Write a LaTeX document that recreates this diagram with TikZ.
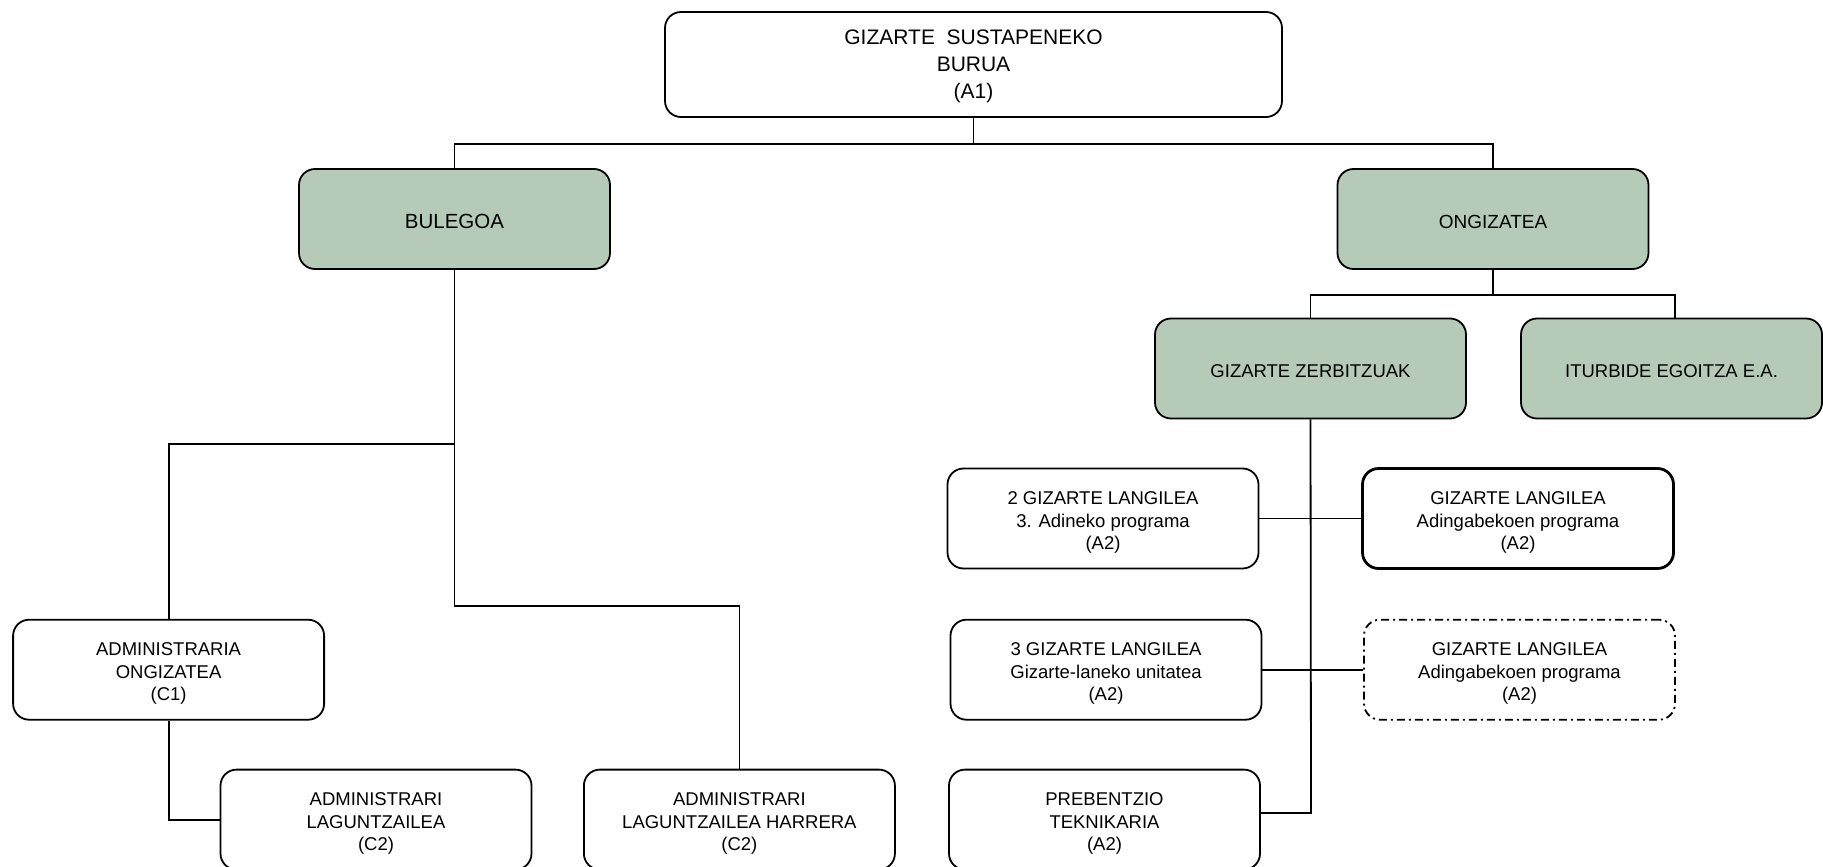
\documentclass[tikz,border=0pt]{standalone}
\usepackage{fontspec}
\setmainfont{Liberation Sans}
\definecolor{boxgreen}{RGB}{181,202,183}
\tikzset{
  box/.style={draw=black, line width=1.8pt, rounded corners=16pt, fill=white,
    minimum width=311pt, minimum height=100pt, inner sep=0pt},
  greenbox/.style={box, fill=boxgreen},
  topbox/.style={box, minimum width=617pt, minimum height=105pt},
  lbl/.style={align=center, inner sep=0pt, font=\fontsize{18.5}{22.7}\selectfont, yshift=-4pt},
  toplbl/.style={align=center, inner sep=0pt, font=\fontsize{21}{27}\selectfont, yshift=-2pt},
  glbl/.style={align=center, inner sep=0pt, font=\fontsize{18.5}{22.7}\selectfont, yshift=-2.5pt},
  conn/.style={draw=black, line width=1.8pt},
}
\begin{document}
\begin{tikzpicture}[x=1pt,y=-1pt]
\useasboundingbox (0,0) rectangle (1823,867);
\begin{scope}
\clip (0,0) rectangle (1823,867);
% nodes
\node[topbox, label={[toplbl]center:GIZARTE\ \ SUSTAPENEKO\\BURUA\\(A1)}] (top) at (973.5,64.5) {};
\node[greenbox, label={[glbl, font=\fontsize{20.5}{24}\selectfont]center:BULEGOA}] (bul) at (454.5,219) {};
\node[greenbox, label={[glbl, font=\fontsize{19}{23}\selectfont]center:ONGIZATEA}] (ong) at (1493,219) {};
\node[greenbox, label={[glbl]center:GIZARTE ZERBITZUAK}] (gz) at (1310.5,368.5) {};
\node[greenbox, minimum width=301pt, label={[glbl]center:ITURBIDE EGOITZA E.A.}] (itu) at (1671.5,368.5) {};
\node[box, label={[lbl]center:2 GIZARTE LANGILEA\\3. Adineko programa\\(A2)}] (sl2) at (1103,518.5) {};
\node[box, line width=2.8pt, label={[lbl]center:GIZARTE LANGILEA\\Adingabekoen programa\\(A2)}] (gla) at (1518,518.5) {};
\node[box, label={[lbl]center:3 GIZARTE LANGILEA\\Gizarte-laneko unitatea\\(A2)}] (sl3) at (1106,669.7) {};
\node[box, dash pattern=on 8pt off 4pt on 2pt off 4pt, label={[lbl]center:GIZARTE LANGILEA\\Adingabekoen programa\\(A2)}] (glb) at (1519.5,669.7) {};
\node[box, label={[lbl]center:PREBENTZIO\\TEKNIKARIA\\(A2)}] (preb) at (1104.5,819.6) {};
\node[box, label={[lbl]center:ADMINISTRARIA\\ONGIZATEA\\(C1)}] (adm) at (168.6,669.7) {};
\node[box, label={[lbl]center:ADMINISTRARI\\LAGUNTZAILEA\\(C2)}] (lag) at (376,819.6) {};
\node[box, label={[lbl]center:ADMINISTRARI\\LAGUNTZAILEA HARRERA\\(C2)}] (har) at (739.4,819.6) {};
% junction coordinates
\coordinate (tj) at (973.5,144);
\coordinate (oj) at (1493,295);
\coordinate (bj1) at (454.5,444);
\coordinate (bj2) at (454.5,605.7);
\coordinate (gzend) at (1311,813);
% connectors
\draw[conn] (top.south) -- (tj);
\draw[conn] (bul.north) |- (tj) -| (ong.north);
\draw[conn] (ong.south) -- (oj);
\draw[conn] (gz.north) |- (oj) -| ([xshift=3.5pt]itu.north);
\draw[conn] (gz.south) -- (gzend) -- (preb.east |- gzend);
\draw[conn] (sl2.east) -- (gla.west);
\draw[conn] (sl3.east) -- (glb.west);
\draw[conn] (bul.south) -- (bj2) -| (har.north);
\draw[conn] (bj1) -| (adm.north);
\draw[conn] (adm.south) |- (lag.west);
\end{scope}
\end{tikzpicture}
\end{document}
